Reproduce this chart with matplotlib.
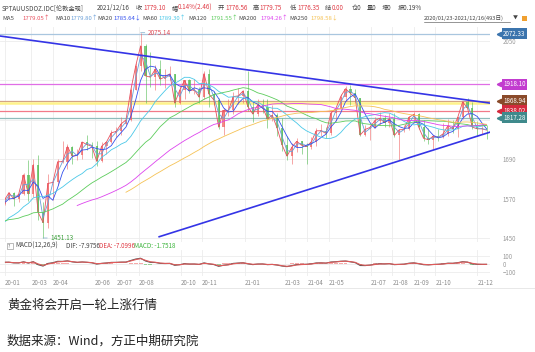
import numpy as np
import pandas as pd
import matplotlib
matplotlib.use("Agg")
import matplotlib.pyplot as plt
from matplotlib.patches import Rectangle
from matplotlib.transforms import blended_transform_factory

plt.rcParams["font.family"] = ["Noto Sans CJK SC", "DejaVu Sans"]

W, H = 535, 352

# weekly bars, weeks ending 2020-01-24 .. 2021-12-17
first_open = 1556
closes = [1571, 1589, 1570, 1584, 1643, 1585, 1674, 1529, 1498, 1617,
          1620, 1683, 1683, 1729, 1700, 1702, 1743, 1735, 1730, 1684,
          1730, 1743, 1771, 1775, 1798, 1810, 1902, 1975, 2035, 1944,
          1940, 1964, 1934, 1941, 1950, 1861, 1900, 1930, 1899, 1902,
          1879, 1951, 1889, 1871, 1788, 1839, 1839, 1881, 1883, 1898,
          1850, 1828, 1856, 1848, 1814, 1824, 1784, 1734, 1700, 1727,
          1745, 1733, 1729, 1744, 1777, 1777, 1769, 1831, 1844, 1881,
          1905, 1891, 1877, 1764, 1781, 1787, 1808, 1815, 1802, 1814,
          1763, 1780, 1781, 1818, 1827, 1788, 1754, 1750, 1761, 1757,
          1768, 1793, 1783, 1818, 1865, 1846, 1788, 1783, 1783, 1779.10]
highs = [1575, 1591, 1592, 1587, 1649, 1689, 1692, 1703, 1560, 1645,
         1627, 1690, 1747, 1738, 1730, 1722, 1744, 1765, 1744, 1745,
         1744, 1746, 1779, 1789, 1818, 1815, 1906, 1984, 2075.14, 2040,
         2015, 1976, 1992, 1966, 1973, 1950, 1917, 1932, 1933, 1933,
         1911, 1960, 1966, 1898, 1876, 1847, 1875, 1896, 1907, 1901,
         1959, 1865, 1875, 1875, 1874, 1855, 1830, 1816, 1760, 1740,
         1755, 1747, 1741, 1758, 1785, 1798, 1790, 1834, 1845, 1890,
         1913, 1916, 1903, 1878, 1795, 1796, 1818, 1834, 1824, 1832,
         1832, 1782, 1795, 1823, 1834, 1830, 1809, 1787, 1764, 1781,
         1800, 1814, 1810, 1819, 1868, 1877, 1865, 1808, 1793, 1795]
lows = [1550, 1566, 1548, 1562, 1581, 1563, 1576, 1505, 1451.13, 1481,
        1567, 1613, 1680, 1660, 1677, 1688, 1691, 1718, 1693, 1671,
        1683, 1705, 1741, 1757, 1763, 1795, 1807, 1900, 1960, 1863,
        1911, 1902, 1916, 1906, 1931, 1848, 1859, 1873, 1891, 1890,
        1860, 1873, 1850, 1854, 1781, 1764, 1822, 1827, 1859, 1863,
        1836, 1803, 1822, 1831, 1785, 1807, 1760, 1717, 1687, 1676,
        1714, 1705, 1677, 1721, 1731, 1760, 1756, 1765, 1808, 1842,
        1869, 1855, 1866, 1761, 1761, 1750, 1784, 1795, 1789, 1789,
        1757, 1687, 1772, 1779, 1802, 1782, 1745, 1738, 1721, 1746,
        1756, 1760, 1770, 1758, 1814, 1843, 1782, 1762, 1766, 1753]
# weekly closes before the visible window (only feed the long averages)
pre_closes = [1497, 1513, 1527, 1520, 1507, 1488, 1517, 1497, 1505, 1489,
              1490, 1505, 1514, 1459, 1468, 1462, 1464, 1460, 1476, 1478,
              1511, 1552, 1562, 1557]

ma_names = ["MA5", "MA10", "MA20", "MA60", "MA120", "MA200", "MA250"]
ma_days = [5, 10, 20, 60, 120, 200, 250]
ma_last = ["1779.05↑", "1779.80↑", "1785.64↓", "1789.30↑", "1791.55↑", "1794.26↑", "1798.58↓"]
ma_colors = ["#e8505e", "#6a9fd8", "#3350ee", "#4ac8e8", "#5ccc5c", "#dd44ee", "#f5c255"]

levels = [2072.33, 1918.10, 1868.94, 1862.0, 1838.02, 1817.28]
level_tags = ["2072.33", "1918.10", "1868.94", None, "1838.02", "1817.28"]
level_line_colors = ["#a9c6df", "#e06ee6", "#d4a585", "#fff38a", "#f27a88", "#8fbcbc"]
level_tag_colors = ["#3b74ad", "#c23ccf", "#8a4a2a", None, "#d42a3e", "#3f8a8c"]

# hand-drawn triangle (start day, start price, end day, end price)
trend_lines = [("2020-01-23", 2063, "2021-12-16", 1862),
               ("2020-09-01", 1455, "2021-12-16", 1771)]

month_labels = ["20-01", "20-03", "20-04", "20-06", "20-07", "20-08", "20-10", "20-11",
                "21-01", "21-03", "21-04", "21-05", "21-07", "21-08", "21-09", "21-10", "21-12"]
price_ticks = [1450, 1570, 1690, 1810, 1930, 2050]
price_labels = ["1450", "1570", "1690", "", "", "2050"]  # 1810 / 1930 sit under the tags

up_c, dn_c = "#f06464", "#52bb52"

days = pd.bdate_range("2020-01-23", "2021-12-16")
pos = pd.Series(np.arange(len(days)), index=days)
by_week = pos.groupby(days.to_period("W-FRI"))
xc = by_week.mean().values
nd = by_week.count().values
opens = [first_open] + closes[:-1]

all_closes = pd.Series(pre_closes + closes)
n_pre = len(pre_closes)

k = (488 - 5) / (len(days) - 1)
xlim = (-5 / k, len(days) - 1 + 2 / k)
month_pos = [days.searchsorted(pd.Timestamp("20" + m[:2] + "-" + m[3:] + "-01")) for m in month_labels]

fig = plt.figure(figsize=(W / 100, H / 100), dpi=100)
ax = fig.add_axes([0, 1 - 242 / H, 490 / W, 215 / H])
mx = fig.add_axes([0, 1 - 276 / H, 490 / W, 26 / H])

# candles
for i in range(len(closes)):
    c = up_c if closes[i] >= opens[i] else dn_c
    ax.vlines(xc[i], lows[i], highs[i], color=c, lw=0.5, alpha=0.8, zorder=3)
    lo, hi = min(opens[i], closes[i]), max(opens[i], closes[i])
    ax.bar(xc[i], max(hi - lo, 1.5), bottom=lo, width=nd[i] * 0.45, color=c, alpha=0.75,
           lw=0, zorder=3)

# moving averages (day windows expressed in weeks)
for name, d, col in zip(ma_names, ma_days, ma_colors):
    ma = all_closes.rolling(max(1, round(d / 5))).mean().values[n_pre:]
    ax.plot(xc, ma, color=col, lw=0.6, zorder=4)

# horizontal levels with tags
tr = blended_transform_factory(ax.transAxes, ax.transData)
for lv, tag, lc, tc in zip(levels, level_tags, level_line_colors, level_tag_colors):
    ax.axhline(lv, color=lc, lw=1.8 if tag is None else 0.9, zorder=2)
    if tag:
        ax.plot(1.019, lv, marker="<", ms=3.2, color=tc, transform=tr, clip_on=False, zorder=6)
        ax.text(1.027, lv, tag, transform=tr, fontsize=4.5, color="white", va="center", ha="left",
                bbox=dict(boxstyle="square,pad=0.2", fc=tc, ec="none"), zorder=6)

# triangle
for d0, p0, d1, p1 in trend_lines:
    i0, i1 = days.searchsorted(pd.Timestamp(d0)), days.searchsorted(pd.Timestamp(d1))
    slope = (p1 - p0) / (i1 - i0)
    xs = np.array([xlim[0] if i0 == 0 else i0, xlim[1]])
    ax.plot(xs, p0 + slope * (xs - i0), color="#3434e6", lw=1.2, zorder=5)

# extremes
ipk = int(np.argmax(highs))
ilo = int(np.argmin(lows))
ax.annotate(f"{highs[ipk]:.2f}", xy=(xc[ipk], highs[ipk]), xytext=(5, 0), textcoords="offset points",
            fontsize=4.6, color="#e0505a", va="center",
            arrowprops=dict(arrowstyle="-", color="#7aa9c9", lw=0.5, shrinkA=0, shrinkB=0))
ax.annotate(f"{lows[ilo]:.2f}", xy=(xc[ilo], lows[ilo]), xytext=(5, 0), textcoords="offset points",
            fontsize=4.6, color="#3ca03c", va="center",
            arrowprops=dict(arrowstyle="-", color="#7aa9c9", lw=0.5, shrinkA=0, shrinkB=0))

ax.set_xlim(*xlim)
ax.set_ylim(1439, 2092.5)
ax.set_xticks(month_pos)
ax.set_xticklabels([])
ax.set_yticks(price_ticks)
ax.set_yticklabels(price_labels)
ax.yaxis.tick_right()
ax.tick_params(axis="y", length=0, pad=9, labelsize=4.4, labelcolor="#9a9a9a")
ax.tick_params(axis="x", length=0)
ax.grid(color="#ececec", lw=0.6)
ax.set_axisbelow(True)
for s in ax.spines.values():
    s.set_visible(False)

# MACD with spans scaled to weekly bars
ema_f = all_closes.ewm(span=12 / 5, adjust=False).mean()
ema_s = all_closes.ewm(span=26 / 5, adjust=False).mean()
dif = ema_f - ema_s
dea = dif.ewm(span=9 / 5, adjust=False).mean()
hist = (2 * (dif - dea)).values[n_pre:]
mx.bar(xc, hist, width=nd * 0.8, color=[up_c if h >= 0 else dn_c for h in hist], alpha=0.55, lw=0)
mx.plot(xc, dif.values[n_pre:], color="#555555", lw=0.8)
mx.plot(xc, dea.values[n_pre:], color="#e05a5a", lw=0.8)
mx.set_xlim(*xlim)
mx.set_ylim(-154, 171)
mx.set_yticks([100, 0, -100])
mx.yaxis.tick_right()
mx.tick_params(axis="y", length=0, pad=9, labelsize=4.4, labelcolor="#9a9a9a")
mx.set_xticks(month_pos)
mx.set_xticklabels(month_labels, ha="left")
mx.tick_params(axis="x", length=0, pad=2.5, labelsize=4.4, labelcolor="#8c8c8c")
mx.grid(color="#ececec", lw=0.6)
mx.set_axisbelow(True)
for s in mx.spines.values():
    s.set_visible(False)


def ftext(x, y, s, color="#444444", size=4.5, **kw):
    fig.text(x / W, 1 - y / H, s, color=color, fontsize=size, va="center", ha="left", **kw)


red = "#e03c46"
row1 = [(2, "SPTAUUSDOZ.IDC[伦敦金现]", "#444444"), (97, "2021/12/16", "#444444"),
        (136, "收", "#444444"), (143, "1779.10", red), (172, "幅", "#444444"),
        (178, "0.14%(2.46)", red), (218, "开", "#444444"), (225, "1776.56", red),
        (253, "高", "#444444"), (259, "1779.75", red), (290, "低", "#444444"),
        (297, "1776.35", red), (325, "结", "#444444"), (332, "0.00", red),
        (352, "仓0", "#444444"), (367, "量0", "#444444"), (382, "增0", "#444444"),
        (398, "振0.19%", "#444444")]
for x, s, c in row1:
    ftext(x, 8, s, c)

ma_lab_x = [2, 55, 97, 142, 188, 238, 289]
ma_val_x = [22, 70, 113, 158, 210, 260, 310]
for name, val, col, lx, vx in zip(ma_names, ma_last, ma_colors, ma_lab_x, ma_val_x):
    ftext(lx, 18, name, size=4.3)
    ftext(vx, 18, val, col, size=4.3)
ftext(424, 18, "2020/01/23-2021/12/16(493日)", size=4.1)
fig.add_artist(plt.Line2D([424 / W, 510 / W], [1 - 22 / H, 1 - 22 / H], color="#444444", lw=0.4))
ftext(513, 18, "▼", size=3.6)
fig.add_artist(Rectangle((522 / W, 1 - 21 / H), 5 / W, 5 / H, color="#f0a030", lw=0))

# MACD header
fig.add_artist(Rectangle((7 / W, 1 - 249 / H), 6 / W, 6 / H, fill=False, ec="#888888", lw=0.4))
ftext(8.3, 246, "?", "#666666", size=3.6)
ftext(15, 246, "MACD(12,26,9)")
ftext(66, 246, "DIF: -7.9756")
ftext(99, 246, "DEA: -7.0996", red)
ftext(134, 246, "MACD: -1.7518", "#3cb43c")

fig.add_artist(plt.Line2D([0, 1], [1 - 288 / H, 1 - 288 / H], color="#e4e4e4", lw=0.6))

ftext(7, 305, "黄金将会开启一轮上涨行情", "#222222", size=9)
ftext(7, 341, "数据来源：Wind，方正中期研究院", "#222222", size=9)

fig.savefig("out.png", dpi=100, facecolor="white")
